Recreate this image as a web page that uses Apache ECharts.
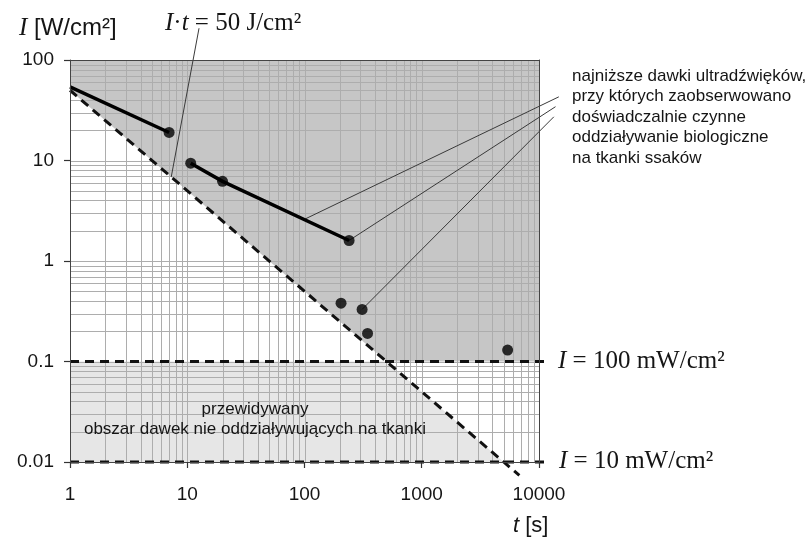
<!DOCTYPE html>
<html><head><meta charset="utf-8">
<script src="https://cdn.jsdelivr.net/npm/echarts@6/dist/echarts.min.js"></script>
<style>html,body{margin:0;padding:0;background:#fff}#c{width:812px;height:538px}</style>
</head><body><div id="c"></div>
<script>
// ---- axis ticks ----
const xTickValues = [1, 10, 100, 1000, 10000];
const xTickLabels = ['1', '10', '100', '1000', '10000'];
const yTickValues = [0.01, 0.1, 1, 10, 100];
const yTickLabels = ['0.01', '0.1', '1', '10', '100'];

// ---- reference levels ----
const doseLimit = 50;          // I·t = 50 J/cm2
const thresholdHigh = 0.1;     // 100 mW/cm2
const thresholdLow = 0.01;     // 10 mW/cm2
const diagonalT = [1, 6800];   // extent of the I·t = 50 dashed line
const levelT = [1, 12000];     // extent of the horizontal dashed lines

// ---- experimental data ----
const segA_t = [1, 7];
const segA_I = [54, 19];
const segB_t = [10.7, 20, 240];
const segB_I = [9.4, 6.2, 1.6];
const dots_t = [7, 10.7, 20, 240, 205, 310, 345, 5400];
const dots_I = [19, 9.4, 6.2, 1.6, 0.38, 0.33, 0.19, 0.13];

// ---- annotation leader lines (data coords) ----
const noteFrom_t = [14760, 13830, 13380];
const noteFrom_I = [43, 34.3, 27.2];
const noteTo_t = [100, 240, 310];
const noteTo_I = [2.6, 1.6, 0.33];
const formulaFrom = [12.6, 207];
const formulaTo_t = 7.3;

const xMin = xTickValues[0], xMax = xTickValues[xTickValues.length - 1];
const yMin = yTickValues[0], yMax = yTickValues[yTickValues.length - 1];

function gridValues(ticks) {
  const out = [];
  for (let i = 0; i < ticks.length; i++) {
    out.push(ticks[i]);
    if (i < ticks.length - 1) for (let k = 2; k <= 9; k++) out.push(+(ticks[i] * k).toPrecision(6));
  }
  return out;
}
const xGrid = gridValues(xTickValues).filter(v => v > xMin && v < xMax);
const yGrid = gridValues(yTickValues).filter(v => v > yMin && v < yMax);

const darkPoly = [[xMin, doseLimit], [xMin, yMax], [xMax, yMax], [xMax, thresholdHigh], [doseLimit / thresholdHigh, thresholdHigh]];
const lightPoly = [[xMin, thresholdLow], [xMin, thresholdHigh], [doseLimit / thresholdHigh, thresholdHigh], [doseLimit / thresholdLow, thresholdLow]];

function polySeries(points, color, z) {
  return {
    type: 'custom', coordinateSystem: 'cartesian2d', silent: true, z: z,
    data: [points[0]],
    renderItem: (p, api) => ({ type: 'polygon', shape: { points: points.map(q => api.coord(q)) }, style: { fill: color } })
  };
}
const gridColor = '#adadad';
function vGridSeries() {
  return {
    type: 'custom', coordinateSystem: 'cartesian2d', silent: true, z: 3,
    data: xGrid.map(v => [v, yMin]),
    renderItem: (p, api) => {
      const v = api.value(0); const a = api.coord([v, yMin]), b = api.coord([v, yMax]);
      const x = Math.round(a[0]) + 0.5;
      return { type: 'line', shape: { x1: x, y1: a[1], x2: x, y2: b[1] }, style: { stroke: gridColor, lineWidth: 1 } };
    }
  };
}
function hGridSeries() {
  return {
    type: 'custom', coordinateSystem: 'cartesian2d', silent: true, z: 3,
    data: yGrid.map(v => [xMin, v]),
    renderItem: (p, api) => {
      const v = api.value(1); const a = api.coord([xMin, v]), b = api.coord([xMax, v]);
      const y = Math.round(a[1]) + 0.5;
      return { type: 'line', shape: { x1: a[0], y1: y, x2: b[0], y2: y }, style: { stroke: gridColor, lineWidth: 1 } };
    }
  };
}
// polyline through data points, drawn through the axes' scales, not clipped to the grid
function pathSeries(pts, style, z) {
  return {
    type: 'custom', coordinateSystem: 'cartesian2d', silent: true, z: z, clip: false,
    data: [pts[0]],
    renderItem: (p, api) => ({
      type: 'polyline', shape: { points: pts.map(q => api.coord(q)) },
      style: { stroke: style.color, lineWidth: style.width, lineDash: style.dash || null, fill: null }
    })
  };
}
const dashStyle = { color: '#111', width: 3, dash: [9, 6] };
const noteStyle = { color: '#3a3a3a', width: 1 };

const series = [
  polySeries(darkPoly, '#c6c6c6', 1),
  polySeries(lightPoly, '#e6e6e6', 1),
  vGridSeries(),
  hGridSeries(),
  pathSeries(diagonalT.map(t => [t, doseLimit / t]), dashStyle, 6),
  pathSeries(levelT.map(t => [t, thresholdHigh]), dashStyle, 6),
  pathSeries(levelT.map(t => [t, thresholdLow]), dashStyle, 6),
  pathSeries([formulaFrom, [formulaTo_t, doseLimit / formulaTo_t]], noteStyle, 7)
];
for (let i = 0; i < noteFrom_t.length; i++) {
  series.push(pathSeries([[noteFrom_t[i], noteFrom_I[i]], [noteTo_t[i], noteTo_I[i]]], noteStyle, 7));
}
series.push({ type: 'line', data: segA_t.map((t, i) => [t, segA_I[i]]), symbol: 'none', silent: true, z: 8, lineStyle: { color: '#000', width: 3.5 } });
series.push({ type: 'line', data: segB_t.map((t, i) => [t, segB_I[i]]), symbol: 'none', silent: true, z: 8, lineStyle: { color: '#000', width: 3.5 } });
series.push({ type: 'scatter', data: dots_t.map((t, i) => [t, dots_I[i]]), symbolSize: 11, itemStyle: { color: '#000' }, z: 9, silent: true });

const sans = '"Liberation Sans", Arial, sans-serif';
const serif = '"Liberation Serif", "Times New Roman", serif';
const textColor = '#151515';

function labelFor(values, labels) {
  return v => { const i = values.findIndex(t => Math.abs(Math.log10(t) - Math.log10(v)) < 1e-6); return i >= 0 ? labels[i] : ''; };
}

const option = {
  animation: false,
  backgroundColor: '#fff',
  grid: { left: 70, right: 273, top: 60, bottom: 76 },
  xAxis: [
    { type: 'log', logBase: 10, min: xMin, max: xMax, z: 10,
      splitLine: { show: false },
      axisLine: { lineStyle: { color: '#444', width: 1 } },
      axisTick: { length: 6, lineStyle: { color: '#333', width: 1.2 } },
      axisLabel: { margin: 23, fontSize: 19, fontFamily: sans, color: textColor, formatter: labelFor(xTickValues, xTickLabels) } },
    { type: 'log', logBase: 10, min: xMin, max: xMax, position: 'top', z: 10,
      splitLine: { show: false }, axisTick: { show: false }, axisLabel: { show: false },
      axisLine: { lineStyle: { color: '#444', width: 1 } } }
  ],
  yAxis: [
    { type: 'log', logBase: 10, min: yMin, max: yMax, z: 10,
      splitLine: { show: false },
      axisLine: { show: true, lineStyle: { color: '#444', width: 1 } },
      axisTick: { show: true, length: 6, lineStyle: { color: '#333', width: 1.2 } },
      axisLabel: { margin: 16, fontSize: 19, fontFamily: sans, color: textColor, formatter: labelFor(yTickValues, yTickLabels) } },
    { type: 'log', logBase: 10, min: yMin, max: yMax, position: 'right', z: 10,
      splitLine: { show: false }, axisTick: { show: false }, axisLabel: { show: false },
      axisLine: { show: true, lineStyle: { color: '#444', width: 1 } } }
  ],
  series: series,
  graphic: [
    { type: 'text', x: 19, y: 28, z: 20, style: { text: '{i|I} [W/cm²]', fontSize: 24, fontFamily: sans, fill: textColor, align: 'left', verticalAlign: 'middle',
        rich: { i: { fontFamily: serif, fontStyle: 'italic', fontSize: 25, fill: textColor } } } },
    { type: 'text', x: 165, y: 23, z: 20, style: { text: '{i|I}·{i|t} = 50 J/cm²', fontSize: 25, fontFamily: serif, fill: textColor, align: 'left', verticalAlign: 'middle',
        rich: { i: { fontFamily: serif, fontStyle: 'italic', fontSize: 25, fill: textColor } } } },
    { type: 'text', x: 572, y: 117, z: 20, style: { text: 'najniższe dawki ultradźwięków,\nprzy których zaobserwowano\ndoświadczalnie czynne\noddziaływanie biologiczne\nna tkanki ssaków',
        fontSize: 17, lineHeight: 20.5, fontFamily: sans, fill: textColor, align: 'left', verticalAlign: 'middle' } },
    { type: 'text', x: 558, y: 361, z: 20, style: { text: '{i|I} = 100 mW/cm²', fontSize: 25, fontFamily: serif, fill: textColor, align: 'left', verticalAlign: 'middle',
        rich: { i: { fontFamily: serif, fontStyle: 'italic', fontSize: 25, fill: textColor } } } },
    { type: 'text', x: 559, y: 461, z: 20, style: { text: '{i|I} = 10 mW/cm²', fontSize: 25, fontFamily: serif, fill: textColor, align: 'left', verticalAlign: 'middle',
        rich: { i: { fontFamily: serif, fontStyle: 'italic', fontSize: 25, fill: textColor } } } },
    { type: 'text', x: 255, y: 419, z: 20, style: { text: 'przewidywany\nobszar dawek nie oddziaływujących na tkanki', fontSize: 17, lineHeight: 20, fontFamily: sans, fill: textColor, align: 'center', verticalAlign: 'middle' } },
    { type: 'text', x: 513, y: 526, z: 20, style: { text: '{i|t} [s]', fontSize: 22, fontFamily: sans, fill: textColor, align: 'left', verticalAlign: 'middle',
        rich: { i: { fontFamily: sans, fontStyle: 'italic', fontSize: 22, fill: textColor } } } }
  ]
};
const chart = echarts.init(document.getElementById('c'), null, { renderer: 'canvas' });
chart.setOption(option);
</script></body></html>
